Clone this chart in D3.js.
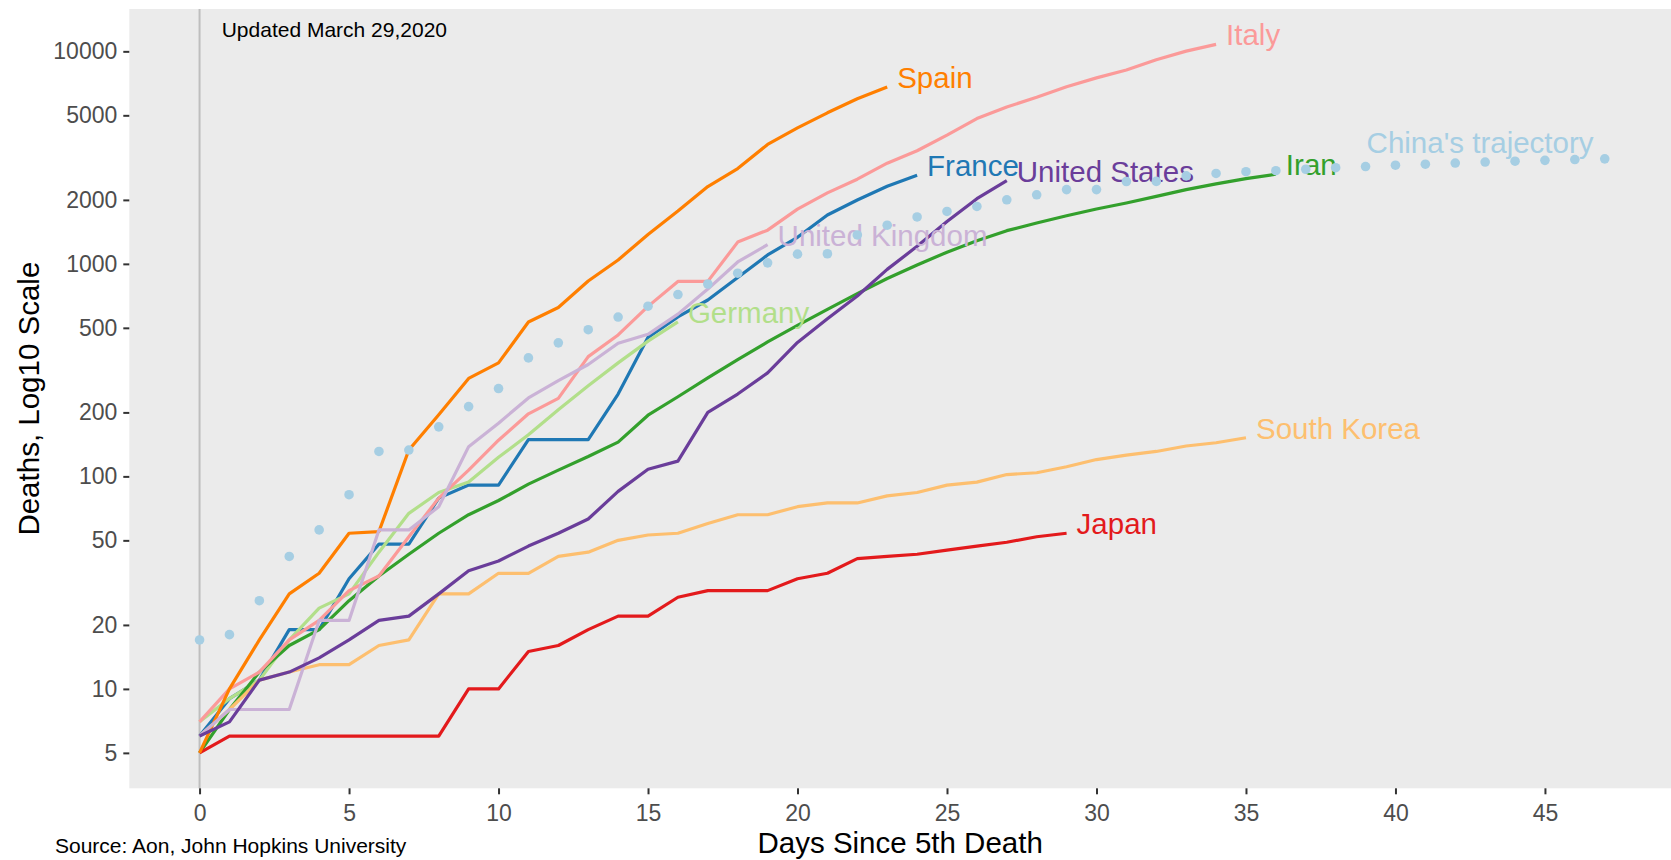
<!DOCTYPE html>
<html>
<head>
<meta charset="utf-8">
<script src="https://cdn.jsdelivr.net/npm/d3@7"></script>
<style>
  html, body { margin: 0; padding: 0; background: #ffffff; }
  svg { display: block; font-family: "Liberation Sans", Arial, sans-serif; }
</style>
</head>
<body>
<svg id="chart" width="1671" height="860"></svg>
<script>
// deaths per day, counted from the day each country passed 5 deaths
var countries = ["China", "France", "Germany", "Iran", "Italy", "Japan", "South Korea", "Spain", "United Kingdom", "United States"];

var china = [17, 18, 26, 42, 56, 82, 131, 133, 171, 213, 259, 361, 425, 490, 562, 632, 717, 804, 904, 1011,
  1111, 1116, 1368, 1520, 1662, 1765, 1863, 2002, 2114, 2236, 2236, 2441, 2443, 2593, 2663, 2715, 2744, 2788,
  2835, 2870, 2912, 2945, 2981, 3013, 3042, 3070, 3097, 3120];
var france = [6, 9, 11, 19, 19, 33, 48, 48, 79, 91, 91, 149, 149, 149, 244, 451, 563, 676, 862, 1102, 1333, 1698, 1997, 2317, 2611];
var germany = [7, 9, 11, 17, 24, 28, 44, 67, 84, 94, 123, 157, 206, 267, 342, 433, 533];
var iran = [5, 8, 12, 16, 19, 26, 34, 43, 54, 66, 77, 92, 107, 124, 145, 194, 237, 291, 354, 429, 514, 611, 724,
  853, 988, 1135, 1284, 1433, 1556, 1685, 1812, 1934, 2077, 2234, 2378, 2517, 2640];
var italy = [7, 10, 12, 17, 21, 29, 34, 52, 79, 107, 148, 197, 233, 366, 463, 631, 827, 827, 1266, 1441, 1809,
  2158, 2503, 2978, 3405, 4032, 4825, 5476, 6077, 6820, 7503, 8165, 9134, 10023, 10779];
var japan = [5, 6, 6, 6, 6, 6, 6, 6, 6, 10, 10, 15, 16, 19, 22, 22, 27, 29, 29, 29, 33, 35, 41, 42, 43, 45, 47, 49, 52, 54];
var southKorea = [6, 8, 11, 12, 13, 13, 16, 17, 28, 28, 35, 35, 42, 44, 50, 53, 54, 60, 66, 66, 72, 75, 75, 81,
  84, 91, 94, 102, 104, 111, 120, 126, 131, 139, 144, 152];
var spain = [5, 10, 17, 28, 35, 54, 55, 133, 195, 289, 342, 533, 623, 830, 1043, 1375, 1772, 2311, 2808, 3647, 4365, 5138, 5982, 6803];
var uk = [6, 8, 8, 8, 21, 21, 56, 56, 72, 138, 178, 234, 282, 336, 423, 466, 580, 761, 1021, 1231];
var us = [6, 7, 11, 12, 14, 17, 21, 22, 28, 36, 40, 47, 54, 63, 85, 108, 118, 200, 244, 307, 427, 552, 706, 942, 1209, 1581, 2026, 2467];

var xTicks = [0, 5, 10, 15, 20, 25, 30, 35, 40, 45];
var yTicks = [5, 10, 20, 50, 100, 200, 500, 1000, 2000, 5000, 10000];

var lineSeries = [
  {name: "France", values: france},
  {name: "Germany", values: germany},
  {name: "Iran", values: iran},
  {name: "Italy", values: italy},
  {name: "Japan", values: japan},
  {name: "South Korea", values: southKorea},
  {name: "Spain", values: spain},
  {name: "United Kingdom", values: uk},
  {name: "United States", values: us}
];

var svg = d3.select("#chart");

var panel = {left: 129.3, top: 9, right: 1675, bottom: 788.3};

var color = d3.scaleOrdinal().domain(countries).range(d3.schemePaired);

// ggplot style 5% expansion
var maxDay = china.length - 1;
var x = d3.scaleLinear()
  .domain([-0.05 * maxDay, maxDay * 1.05])
  .range([panel.left, panel.right]);

var allVals = d3.merge([china].concat(lineSeries.map(function(s) { return s.values; })));
var lo = Math.log10(d3.min(allVals)), hi = Math.log10(d3.max(allVals));
var pad = (hi - lo) * 0.05;
var y = d3.scaleLog()
  .domain([Math.pow(10, lo - pad), Math.pow(10, hi + pad)])
  .range([panel.bottom, panel.top]);

// panel background
svg.append("rect")
  .attr("x", panel.left)
  .attr("y", panel.top)
  .attr("width", panel.right - panel.left)
  .attr("height", panel.bottom - panel.top)
  .attr("fill", "#ebebeb");

// vertical line at day 0
svg.append("line")
  .attr("x1", x(0)).attr("x2", x(0))
  .attr("y1", panel.top).attr("y2", panel.bottom)
  .attr("stroke", "#bebebe")
  .attr("stroke-width", 2);

// axes
var yAxis = d3.axisLeft(y).tickValues(yTicks).tickFormat(d3.format("d")).tickSize(6).tickPadding(6);
var gy = svg.append("g").attr("transform", "translate(" + panel.left + ",0)").call(yAxis);
gy.select(".domain").remove();
gy.selectAll(".tick line").attr("stroke", "#333333").attr("stroke-width", 2);
gy.selectAll(".tick text").attr("fill", "#4d4d4d").style("font-size", "23px");

var xAxis = d3.axisBottom(x).tickValues(xTicks).tickSize(6).tickPadding(10);
var gx = svg.append("g").attr("transform", "translate(0," + panel.bottom + ")").call(xAxis);
gx.select(".domain").remove();
gx.selectAll(".tick line").attr("stroke", "#333333").attr("stroke-width", 2);
gx.selectAll(".tick text").attr("fill", "#4d4d4d").style("font-size", "23px");

// axis titles
svg.append("text")
  .attr("x", (panel.left + 1671) / 2)
  .attr("y", 853.3)
  .attr("text-anchor", "middle")
  .style("font-size", "29.5px")
  .attr("fill", "#000")
  .text("Days Since 5th Death");

svg.append("text")
  .attr("transform", "translate(38.5," + ((panel.top + panel.bottom) / 2) + ") rotate(-90)")
  .attr("text-anchor", "middle")
  .style("font-size", "29.5px")
  .attr("fill", "#000")
  .text("Deaths, Log10 Scale");

// country lines
var line = d3.line()
  .x(function(d, i) { return x(i); })
  .y(function(d) { return y(d); });

svg.selectAll(".country").data(lineSeries).enter()
  .append("path")
  .attr("class", "country")
  .attr("d", function(d) { return line(d.values); })
  .attr("fill", "none")
  .attr("stroke", function(d) { return color(d.name); })
  .attr("stroke-width", 3.2)
  .attr("stroke-linejoin", "round");

// labels at the end of each line
svg.selectAll(".label").data(lineSeries).enter()
  .append("text")
  .attr("class", "label")
  .attr("x", function(d) { return x(d.values.length - 1) + 10; })
  .attr("y", function(d) { return y(d.values[d.values.length - 1]) + 1; })
  .attr("fill", function(d) { return color(d.name); })
  .style("font-size", "29.5px")
  .text(function(d) { return d.name; });

// china's trajectory as dots
svg.selectAll(".china").data(china).enter()
  .append("circle")
  .attr("class", "china")
  .attr("cx", function(d, i) { return x(i); })
  .attr("cy", function(d) { return y(d); })
  .attr("r", 4.8)
  .attr("fill", color("China"));

svg.append("text")
  .attr("x", x(38.7) + 10)
  .attr("y", y(3340))
  .attr("fill", color("China"))
  .style("font-size", "29.5px")
  .text("China's trajectory");

// notes
svg.append("text")
  .attr("x", 221.7)
  .attr("y", 37.3)
  .style("font-size", "21px")
  .attr("fill", "#000")
  .text("Updated March 29,2020");

svg.append("text")
  .attr("x", 55)
  .attr("y", 853)
  .style("font-size", "21px")
  .attr("fill", "#000")
  .text("Source: Aon, John Hopkins University");
</script>
</body>
</html>
